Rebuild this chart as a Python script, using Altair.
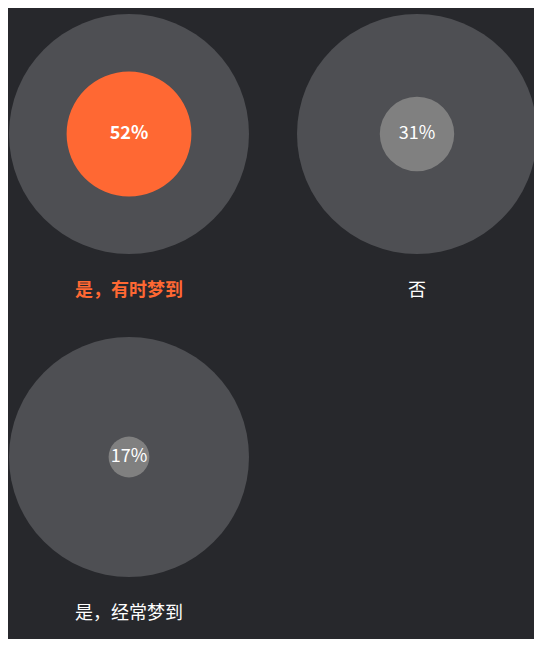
import altair as alt
import pandas as pd

categories = ["是，有时梦到", "否", "是，经常梦到"]
percents = [52, 31, 17]

BG = "#27282c"
RING = "#4e4f53"
ORANGE = "#ff6833"
GRAY = "#808080"
FONT = "Noto Sans CJK SC"

df = pd.DataFrame({"name": categories, "pct": percents})

base = (
    alt.Chart(df)
    .transform_window(idx="row_number()")
    .transform_calculate(
        col="(datum.idx - 1) % 2",
        row="floor((datum.idx - 1) / 2)",
        label="datum.pct + '%'",
    )
    .transform_joinaggregate(maxp="max(pct)")
    .transform_calculate(hi="datum.pct == datum.maxp")
)

x = alt.X("col:Q", scale=alt.Scale(domain=[0, 1], range=[121, 409]), axis=None)
y = alt.Y("row:Q", scale=alt.Scale(domain=[0, 1], range=[126, 449]), axis=None)

outer = base.mark_circle(size=57600, color=RING, opacity=1).encode(x=x, y=y)

inner = base.mark_circle(opacity=1).encode(
    x=x,
    y=y,
    size=alt.Size(
        "pct:Q",
        scale=alt.Scale(type="pow", exponent=2, domain=[0, 100], range=[0, 57600]),
        legend=None,
    ),
    color=alt.condition("datum.hi", alt.value(ORANGE), alt.value(GRAY)),
)

pct_hi = base.transform_filter("datum.hi").mark_text(
    font=FONT, fontSize=18, fontWeight="bold", color="white", baseline="middle"
).encode(x=x, y=y, text="label:N")

pct_lo = base.transform_filter("!datum.hi").mark_text(
    font=FONT, fontSize=18, fontWeight="normal", color="white", baseline="middle"
).encode(x=x, y=y, text="label:N")

name_hi = base.transform_filter("datum.hi").mark_text(
    font=FONT, fontSize=18, fontWeight="bold", color=ORANGE, baseline="middle", dy=157
).encode(x=x, y=y, text="name:N")

name_lo = base.transform_filter("!datum.hi").mark_text(
    font=FONT, fontSize=18, fontWeight="normal", color="white", baseline="middle", dy=157
).encode(x=x, y=y, text="name:N")

chart = (
    alt.layer(outer, inner, pct_hi, pct_lo, name_hi, name_lo)
    .properties(width=526, height=631, autosize="none", padding=0)
    .configure(background=BG)
    .configure_view(stroke=None)
)

chart.save("out.html", embed_options={"renderer": "svg", "actions": False})
